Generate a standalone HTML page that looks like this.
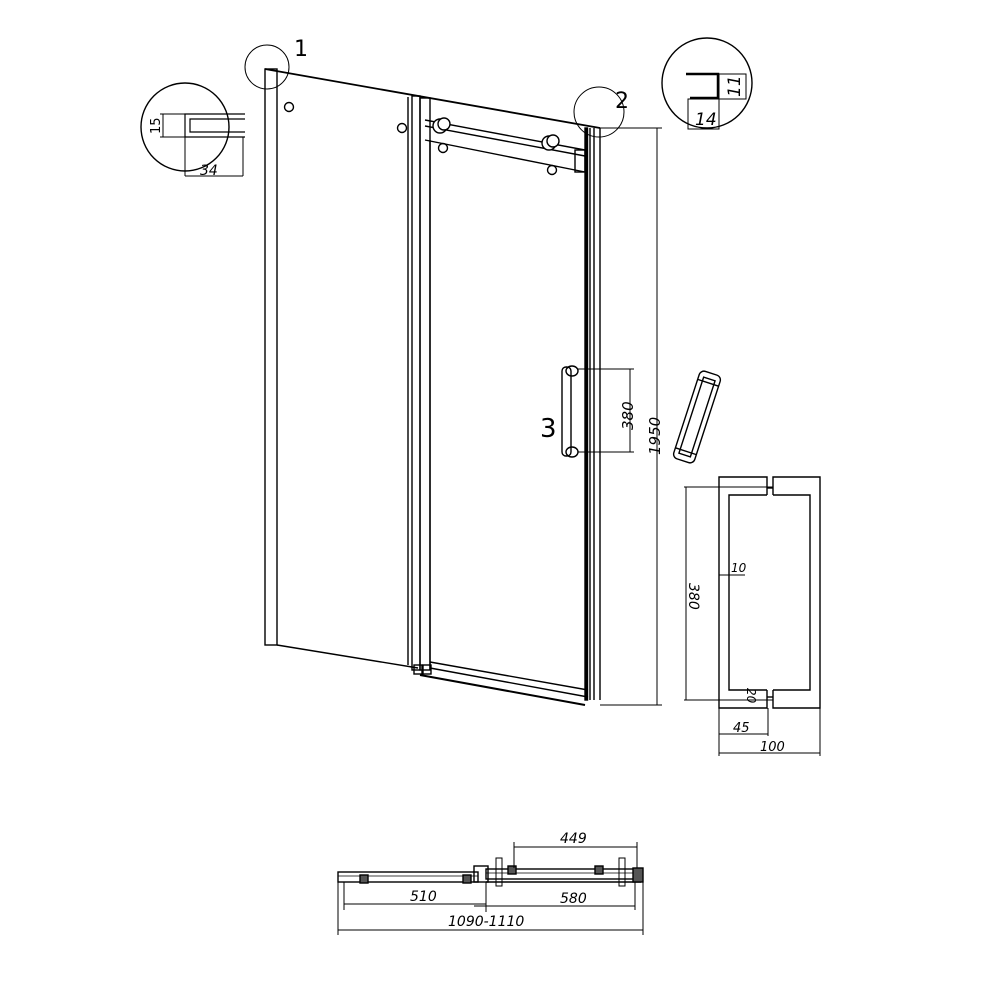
<!DOCTYPE html>
<html><head><meta charset="utf-8"><style>html,body{margin:0;padding:0;background:#fff}svg{display:block}text{font-family:"DejaVu Sans","Liberation Sans",sans-serif;fill:#000}</style></head><body>
<svg width="1000" height="1000" viewBox="0 0 1000 1000" xmlns="http://www.w3.org/2000/svg" fill="none" stroke="#000" stroke-width="1.4">
<!-- left fixed panel -->
<rect x="265" y="69" width="12" height="576"/>
<line x1="265" y1="69" x2="600" y2="128" stroke-width="1.8"/>
<line x1="277" y1="645" x2="418" y2="668"/>
<line x1="408" y1="97" x2="408" y2="665"/>
<circle cx="289" cy="107" r="4.5"/><circle cx="402" cy="128" r="4.5"/>
<!-- door frame -->
<rect x="412" y="96" width="8" height="574"/>
<rect x="420" y="98" width="10" height="572"/>
<line x1="430" y1="140" x2="430" y2="670"/>
<rect x="585" y="128" width="2.5" height="572" fill="#000"/>
<line x1="590" y1="128" x2="590" y2="700"/>
<line x1="594" y1="128" x2="594" y2="700"/><line x1="600" y1="128" x2="600" y2="700"/>
<!-- rail -->
<line x1="425" y1="120" x2="585" y2="150"/>
<line x1="425" y1="126" x2="585" y2="156"/>
<line x1="425" y1="140" x2="585" y2="172"/>
<rect x="575" y="150" width="10" height="22"/>
<circle cx="440" cy="126" r="7" fill="#fff"/><circle cx="444" cy="124" r="6" fill="#fff"/>
<circle cx="549" cy="143" r="7" fill="#fff"/><circle cx="553" cy="141" r="6" fill="#fff"/>
<circle cx="443" cy="148" r="4.5"/><circle cx="552" cy="170" r="4.5"/>
<!-- bottom rail -->
<line x1="430" y1="662" x2="588" y2="690"/>
<line x1="430" y1="668" x2="588" y2="697"/>
<line x1="420" y1="675" x2="585" y2="705" stroke-width="2"/>
<rect x="414" y="665" width="8" height="9"/><rect x="423" y="665" width="8" height="9"/>
<!-- handle 3 -->
<rect x="562" y="367" width="9" height="89" rx="4"/>
<ellipse cx="572" cy="371" rx="6" ry="5"/><ellipse cx="572" cy="452" rx="6" ry="5"/>
<line x1="578" y1="369" x2="634" y2="369" stroke-width="1"/><line x1="578" y1="452" x2="634" y2="452" stroke-width="1"/>
<line x1="630" y1="369" x2="630" y2="452" stroke-width="1"/>
<text x="0" y="0" transform="translate(633,430) rotate(-90)" font-size="15" font-style="italic" stroke="none">380</text>
<text x="540" y="437" font-size="26" stroke="none">3</text>
<!-- 1950 -->
<line x1="600" y1="128" x2="662" y2="128" stroke-width="1"/><line x1="600" y1="705" x2="662" y2="705" stroke-width="1"/>
<line x1="657" y1="128" x2="657" y2="705" stroke-width="1"/>
<text transform="translate(660,455) rotate(-90)" font-size="15" font-style="italic" stroke="none">1950</text>
<!-- detail 1 -->
<circle cx="267" cy="67" r="22" stroke-width="1"/>
<text x="294" y="56" font-size="22" stroke="none">1</text>
<circle cx="185" cy="127" r="44"/>
<path d="M245 114 H185 V137 H245 M245 119 H190 V132 H245" stroke-width="1.2"/>
<line x1="160" y1="114" x2="185" y2="114" stroke-width="1"/><line x1="160" y1="137" x2="185" y2="137" stroke-width="1"/>
<line x1="163" y1="114" x2="163" y2="137" stroke-width="1"/>
<text transform="translate(160,134) rotate(-90)" font-size="13" stroke="none">15</text>
<line x1="185" y1="137" x2="185" y2="176" stroke-width="1"/><line x1="243" y1="137" x2="243" y2="176" stroke-width="1"/>
<line x1="185" y1="176" x2="243" y2="176" stroke-width="1"/>
<text x="200" y="175" font-size="14" font-style="italic" stroke="none">34</text>
<!-- detail 2 -->
<circle cx="599" cy="112" r="25" stroke-width="1"/>
<text x="615" y="108" font-size="22" stroke="none">2</text>
<circle cx="707" cy="83" r="45"/>
<path d="M686 74 H718 V98 H690" stroke-width="2.5"/>
<rect x="688" y="99" width="31" height="30" stroke-width="1"/>
<rect x="719" y="74" width="27" height="25" stroke-width="1"/>
<text x="695" y="125" font-size="17" font-style="italic" stroke="none">14</text>
<text transform="translate(740,97) rotate(-90)" font-size="17" font-style="italic" stroke="none">11</text>
<!-- tilted handle -->
<g transform="translate(697,417) rotate(18)">
<rect x="-11" y="-46" width="22" height="92" rx="5"/>
<rect x="-6" y="-40" width="12" height="80"/>
<line x1="-11" y1="-36" x2="11" y2="-36"/><line x1="-11" y1="36" x2="11" y2="36"/>
</g>
<!-- handle detail -->
<path d="M767 495 V477 H719 V708 H767 V690"/>
<path d="M773 495 V477 H820 V708 H773 V690"/>
<path d="M767 495 H729 V690 H767 M773 495 H810 V690 H773"/>
<line x1="767" y1="488" x2="773" y2="488"/><line x1="767" y1="697" x2="773" y2="697"/>
<line x1="684" y1="487" x2="773" y2="487" stroke-width="1"/><line x1="684" y1="700" x2="773" y2="700" stroke-width="1"/>
<line x1="686" y1="487" x2="686" y2="700" stroke-width="1"/>
<text transform="translate(689,583) rotate(90)" font-size="14" font-style="italic" stroke="none">380</text>
<line x1="719" y1="575" x2="745" y2="575" stroke-width="1"/>
<text x="731" y="572" font-size="12" font-style="italic" stroke="none">10</text>
<text transform="translate(747,688) rotate(90)" font-size="12" font-style="italic" stroke="none">20</text>
<line x1="719" y1="708" x2="719" y2="756" stroke-width="1"/><line x1="768" y1="708" x2="768" y2="736" stroke-width="1"/><line x1="820" y1="708" x2="820" y2="756" stroke-width="1"/>
<line x1="719" y1="734" x2="768" y2="734" stroke-width="1"/>
<line x1="719" y1="753" x2="820" y2="753" stroke-width="1"/>
<text x="733" y="732" font-size="13" font-style="italic" stroke="none">45</text>
<text x="760" y="751" font-size="13" font-style="italic" stroke="none">100</text>
<!-- plan view -->
<rect x="338" y="872" width="140" height="10"/>
<line x1="338" y1="876" x2="478" y2="876" stroke-width="0.8"/>
<rect x="474" y="866" width="14" height="16"/>
<rect x="486" y="869" width="155" height="10"/>
<line x1="486" y1="873" x2="641" y2="873" stroke-width="0.8"/>
<line x1="486" y1="882" x2="641" y2="882"/>
<rect x="496" y="858" width="6" height="28" stroke-width="1"/><rect x="619" y="858" width="6" height="28" stroke-width="1"/>
<rect x="633" y="868" width="10" height="14" fill="#555"/>
<rect x="508" y="866" width="8" height="8" fill="#555"/><rect x="595" y="866" width="8" height="8" fill="#555"/>
<rect x="360" y="875" width="8" height="8" fill="#555"/><rect x="463" y="875" width="8" height="8" fill="#555"/>
<line x1="514" y1="842" x2="514" y2="868" stroke-width="1"/><line x1="637" y1="842" x2="637" y2="868" stroke-width="1"/>
<line x1="514" y1="847" x2="637" y2="847" stroke-width="1"/>
<text x="560" y="843" font-size="14" font-style="italic" stroke="none">449</text>
<line x1="344" y1="882" x2="344" y2="910" stroke-width="1"/><line x1="486" y1="882" x2="486" y2="912" stroke-width="1"/><line x1="635" y1="882" x2="635" y2="910" stroke-width="1"/>
<line x1="344" y1="904" x2="486" y2="904" stroke-width="1"/>
<line x1="474" y1="906" x2="635" y2="906" stroke-width="1"/>
<text x="410" y="901" font-size="14" font-style="italic" stroke="none">510</text>
<text x="560" y="903" font-size="14" font-style="italic" stroke="none">580</text>
<line x1="338" y1="882" x2="338" y2="935" stroke-width="1"/><line x1="643" y1="882" x2="643" y2="935" stroke-width="1"/>
<line x1="338" y1="930" x2="643" y2="930" stroke-width="1"/>
<text x="448" y="926" font-size="14" font-style="italic" stroke="none">1090-1110</text>
</svg>
</body></html>
